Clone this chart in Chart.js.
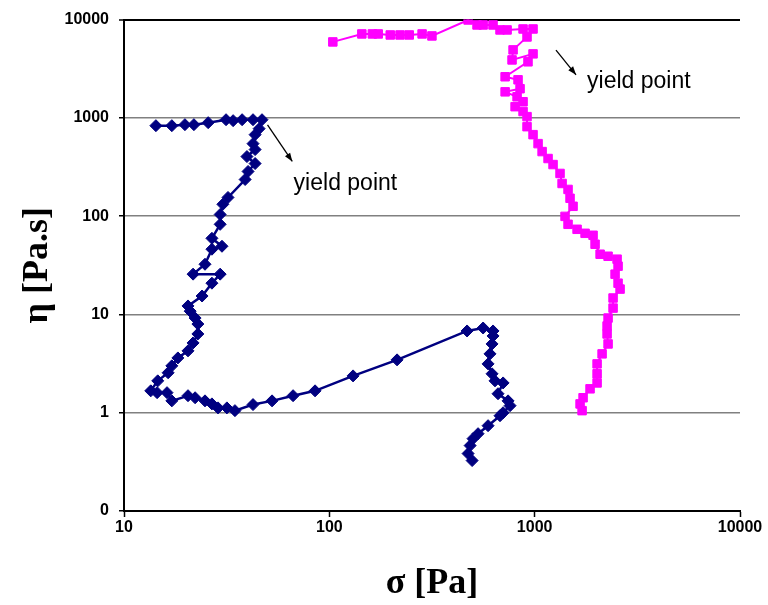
<!DOCTYPE html>
<html>
<head>
<meta charset="utf-8">
<script src="https://cdn.jsdelivr.net/npm/chart.js@4/dist/chart.umd.min.js"></script>
<style>
  html, body { margin: 0; padding: 0; background: #fff; }
</style>
</head>
<body>
<canvas id="flow" width="768" height="605"></canvas>
<script>
// tick values (0.1 is shown as "0", like the original sheet)
const xTicks = [10, 100, 1000, 10000];
const yTicks = [0.1, 1, 10, 100, 1000, 10000];

// blue series: stress sigma [Pa] / viscosity eta [Pa.s]
const blueStress = [14.3, 17.1, 19.8, 21.9, 25.7, 31.4, 34.0, 37.6, 42.5, 47.0,
  45.5, 43.5, 42.5, 43.5, 39.7, 43.5, 40.2, 38.9, 32.1, 30.3,
  29.4, 29.4, 26.8, 30.0, 26.8, 24.8, 21.7, 29.4, 26.8, 24.0,
  20.5, 21.0, 22.2, 22.9, 22.9, 21.7, 20.5, 18.3, 17.1, 16.4,
  14.6, 13.5, 14.5, 16.2, 17.1, 20.5, 22.2, 24.8, 26.8, 28.7,
  31.7, 34.7, 42.5, 52.6, 66.6, 85.2, 130.5, 213.7, 468.6, 561,
  627, 627, 620, 606, 593, 620, 641, 702, 663, 742,
  759, 702, 678, 593, 530, 501, 485, 474, 496];
const blueVisc = [833, 833, 853, 853, 894, 958, 937, 958, 958, 958,
  777, 675, 547, 476, 404, 343, 285, 236, 155, 132,
  104, 82.6, 59.5, 49.4, 46.1, 32.4, 25.7, 25.7, 20.8, 15.4,
  12.2, 10.8, 9.19, 7.99, 6.33, 5.13, 4.26, 3.61, 3.00, 2.55,
  2.11, 1.67, 1.60, 1.60, 1.32, 1.49, 1.42, 1.32, 1.23, 1.12,
  1.12, 1.05, 1.21, 1.32, 1.49, 1.67, 2.37, 3.45, 6.79, 7.28,
  6.79, 6.04, 5.01, 3.97, 3.14, 2.49, 2.11, 2.01, 1.56, 1.32,
  1.18, 1.00, 0.932, 0.738, 0.612, 0.545, 0.463, 0.384, 0.326];

// magenta series
const pinkStress = [104, 144, 162, 173, 198, 221, 245, 283, 316, 474,
  524, 561, 627, 678, 734, 878, 982, 918, 785, 776,
  982, 928, 718, 830, 849, 718, 821, 878, 803, 878,
  918, 918, 982, 1039, 1087, 1162, 1229, 1329, 1360, 1454,
  1487, 1538, 1406, 1454, 1609, 1760, 1925, 1969, 2083, 2278,
  2520, 2548, 2464, 2548, 2606, 2409, 2409, 2278, 2253, 2253,
  2278, 2130, 2014, 2014, 2014, 1861, 1721, 1664, 1702];
const pinkVisc = [5930, 7150, 7150, 7150, 6980, 6980, 6980, 7150, 6820, 9910,
  8820, 8820, 8820, 7850, 7850, 8030, 8030, 6660, 4920, 3890,
  4480, 3720, 2620, 2440, 1980, 1840, 1640, 1460, 1300, 1160,
  1030, 814, 675, 547, 454, 386, 335, 272, 215, 187,
  152, 126, 99.5, 82.6, 73.5, 66.9, 63.9, 51.8, 41.0, 39.1,
  36.5, 31.0, 25.7, 20.8, 18.1, 14.7, 11.6, 9.19, 7.63, 6.33,
  5.01, 3.97, 3.14, 2.49, 2.01, 1.75, 1.42, 1.23, 1.05];

// "yield point" notes in data units: arrow start, arrow tip, text anchor
const notes = [
  { from: [50, 850], to: [66, 360], at: [67, 215], label: 'yield point' },
  { from: [1270, 4900], to: [1590, 2740], at: [1800, 2330], label: 'yield point' }
];

const toPoints = (xs, ys) => xs.map((x, i) => ({ x: x, y: ys[i] }));

const yieldNotes = {
  id: 'yieldNotes',
  afterDatasetsDraw(chart) {
    const { ctx, scales: { x, y } } = chart;
    ctx.save();
    ctx.strokeStyle = '#000';
    ctx.fillStyle = '#000';
    ctx.lineWidth = 1.3;
    notes.forEach(n => {
      const x0 = x.getPixelForValue(n.from[0]), y0 = y.getPixelForValue(n.from[1]);
      const x1 = x.getPixelForValue(n.to[0]), y1 = y.getPixelForValue(n.to[1]);
      const a = Math.atan2(y1 - y0, x1 - x0);
      ctx.beginPath();
      ctx.moveTo(x0, y0);
      ctx.lineTo(x1, y1);
      ctx.stroke();
      ctx.beginPath();
      ctx.moveTo(x1, y1);
      ctx.lineTo(x1 - 9 * Math.cos(a - 0.35), y1 - 9 * Math.sin(a - 0.35));
      ctx.lineTo(x1 - 9 * Math.cos(a + 0.35), y1 - 9 * Math.sin(a + 0.35));
      ctx.closePath();
      ctx.fill();
      ctx.font = '23px "Liberation Sans", Arial, sans-serif';
      ctx.textAlign = 'left';
      ctx.textBaseline = 'middle';
      ctx.fillText(n.label, x.getPixelForValue(n.at[0]), y.getPixelForValue(n.at[1]));
    });
    ctx.restore();
  }
};

new Chart(document.getElementById('flow'), {
  type: 'scatter',
  data: {
    datasets: [
      {
        data: toPoints(blueStress, blueVisc),
        showLine: true,
        borderColor: '#000080',
        backgroundColor: '#000080',
        borderWidth: 2.5,
        pointStyle: 'rectRot',
        pointRadius: 6,
        pointBorderWidth: 1,
        pointBorderColor: '#000080',
        pointBackgroundColor: '#000080'
      },
      {
        data: toPoints(pinkStress, pinkVisc),
        showLine: true,
        borderColor: '#FF00FF',
        backgroundColor: '#FF00FF',
        borderWidth: 2,
        pointStyle: 'rect',
        pointRadius: 6,
        pointBorderWidth: 1,
        pointBorderColor: '#FF00FF',
        pointBackgroundColor: '#FF00FF'
      }
    ]
  },
  options: {
    responsive: false,
    animation: false,
    layout: { padding: { top: 18, right: 28, left: 0, bottom: 0 } },
    plugins: { legend: { display: false }, tooltip: { enabled: false } },
    scales: {
      x: {
        type: 'logarithmic',
        min: 10,
        max: 10000,
        afterFit: s => { s.height = 94; },
        afterBuildTicks: s => { s.ticks = xTicks.map(v => ({ value: v })); },
        border: { color: '#000', width: 2 },
        grid: { drawOnChartArea: false, tickLength: 6, tickColor: '#000', tickWidth: 1.5 },
        ticks: {
          color: '#000',
          padding: 1,
          maxRotation: 0,
          autoSkip: false,
          font: { family: '"Liberation Sans", Arial', size: 16, weight: 'bold' },
          callback: v => String(v)
        },
        title: {
          display: true,
          text: 'σ [Pa]',
          color: '#000',
          padding: { top: 0, bottom: 0 },
          font: { family: '"Liberation Serif", "Times New Roman", serif', size: 36, weight: 'bold' }
        }
      },
      y: {
        type: 'logarithmic',
        min: 0.1,
        max: 10000,
        afterFit: s => { s.width = 124; },
        afterBuildTicks: s => { s.ticks = yTicks.map(v => ({ value: v })); },
        border: { color: '#000', width: 2 },
        grid: {
          color: c => (c.tick && c.tick.value === 10000) ? '#000' : '#808080',
          lineWidth: c => (c.tick && c.tick.value === 10000) ? 2 : 1.5,
          tickLength: 5,
          tickColor: '#000',
          tickWidth: 1.5
        },
        ticks: {
          color: '#000',
          padding: 10,
          autoSkip: false,
          font: { family: '"Liberation Sans", Arial', size: 16, weight: 'bold' },
          callback: v => (v === 0.1 ? '0' : String(v))
        },
        title: {
          display: true,
          text: 'η [Pa.s]',
          color: '#000',
          padding: { top: 16, bottom: 0 },
          font: { family: '"Liberation Serif", "Times New Roman", serif', size: 36, weight: 'bold' }
        }
      }
    }
  },
  plugins: [yieldNotes]
});
</script>
</body>
</html>
